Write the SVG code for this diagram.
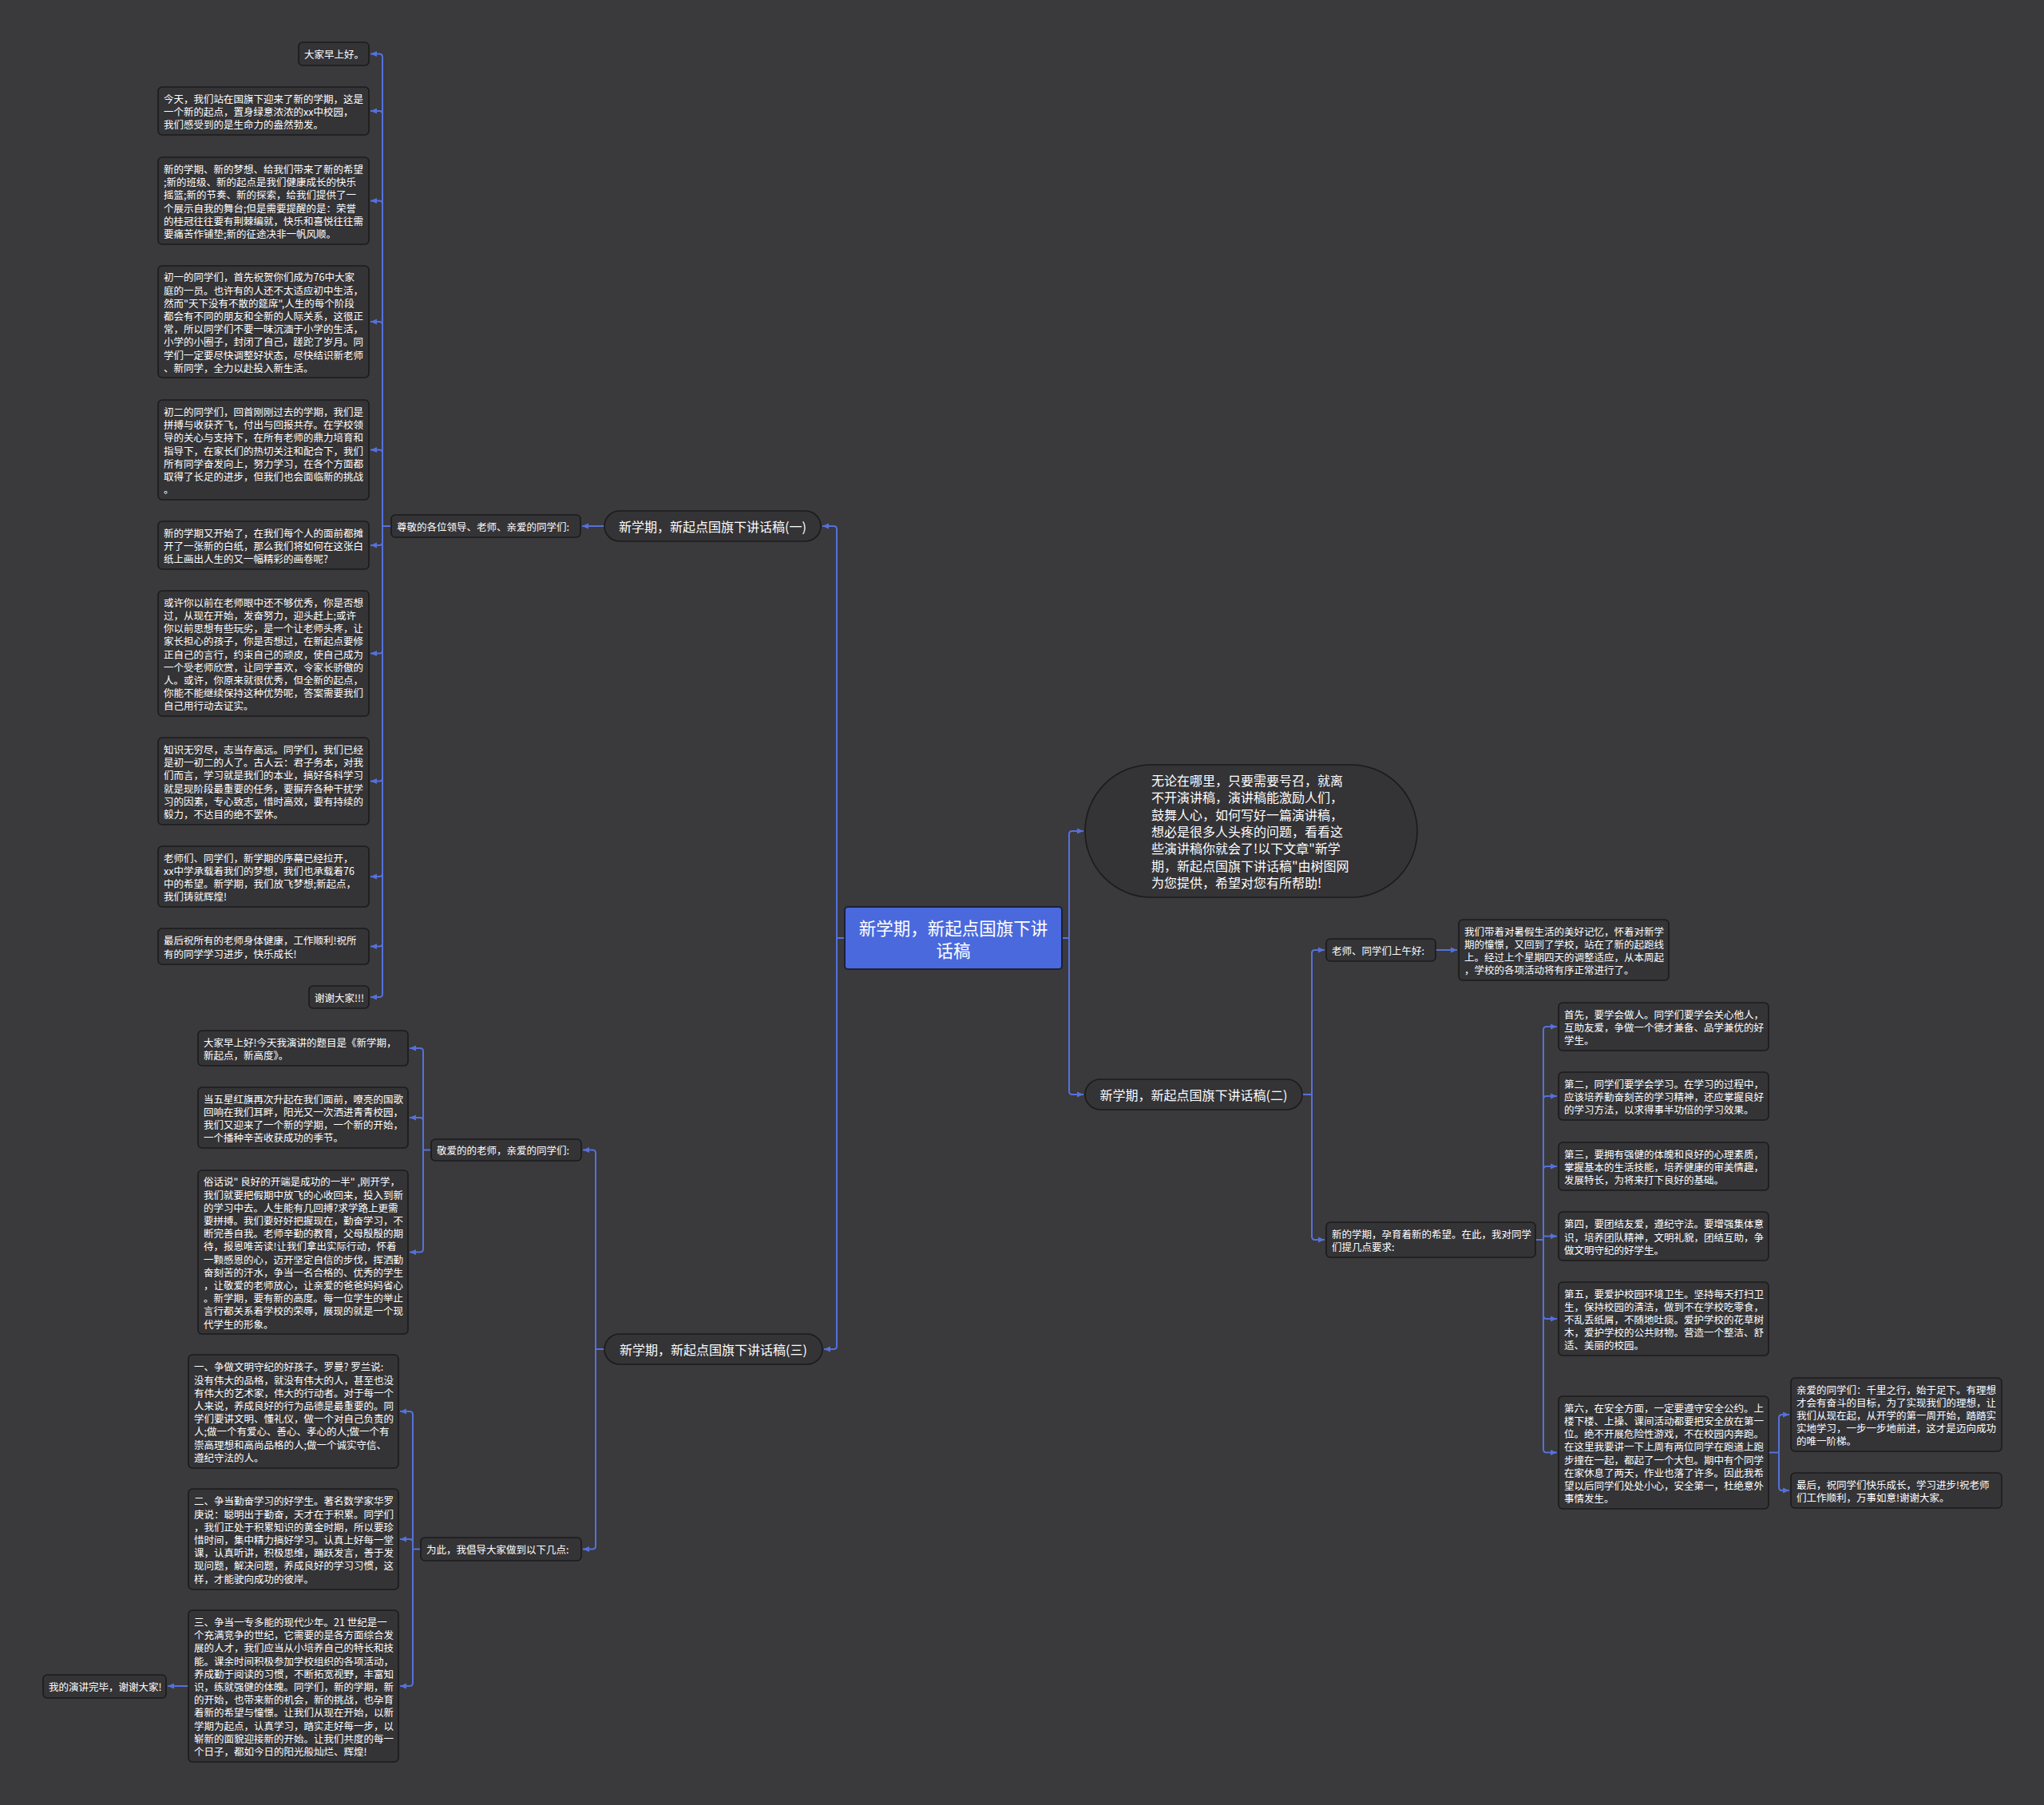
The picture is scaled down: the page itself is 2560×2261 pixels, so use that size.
<svg xmlns="http://www.w3.org/2000/svg" width="2560" height="2261" viewBox="0 0 2560 2261">
<defs>
<marker id="ah" markerUnits="userSpaceOnUse" markerWidth="10" markerHeight="9" refX="8" refY="4.5" orient="auto"><path d="M0,1 L8,4.5 L0,8 z" fill="#5571db"/></marker>
<style>
.bg{fill:#3a393c}
.n{fill:#343336;stroke:#1b1b1c;stroke-width:1.6}
.t{font-family:"Noto Sans CJK SC","Noto Sans",sans-serif;font-size:12.5px;fill:#ffffff;dominant-baseline:central}
.bt{font-family:"Noto Sans CJK SC","Noto Sans",sans-serif;font-size:16px;fill:#ffffff;dominant-baseline:central;text-anchor:middle}
.root{fill:#4a69dd;stroke:#1d2038;stroke-width:2}
.rt{font-family:"Noto Sans CJK SC","Noto Sans",sans-serif;font-size:21.5px;fill:#ffffff;dominant-baseline:central;text-anchor:middle}
.c path{fill:none;stroke:#5571db;stroke-width:2}
</style>
</defs>
<rect class="bg" x="0" y="0" width="2560" height="2261"/>

<g class="c" id="connectors">
<path d="M1058,1175 H1048"/>
<path d="M1048,1175 V663 Q1048,659 1044,659 H1030" marker-end="url(#ah)"/>
<path d="M1048,1175 V1686 Q1048,1690 1044,1690 H1032" marker-end="url(#ah)"/>
<path d="M1330,1175 H1339"/>
<path d="M1339,1175 V1045 Q1339,1041 1343,1041 H1357" marker-end="url(#ah)"/>
<path d="M1339,1175 V1367 Q1339,1371 1343,1371 H1357" marker-end="url(#ah)"/>
<path d="M757,659 H729" marker-end="url(#ah)"/>
<path d="M490,659 H479"/>
<path d="M479,659 V71.5 Q479,67.5 475,67.5 H464" marker-end="url(#ah)"/>
<path d="M479,659 V143 Q479,139 475,139 H464" marker-end="url(#ah)"/>
<path d="M479,659 V255.5 Q479,251.5 475,251.5 H464" marker-end="url(#ah)"/>
<path d="M479,659 V407 Q479,403 475,403 H464" marker-end="url(#ah)"/>
<path d="M479,659 V567.5 Q479,563.5 475,563.5 H464" marker-end="url(#ah)"/>
<path d="M479,659 V679 Q479,683 475,683 H464" marker-end="url(#ah)"/>
<path d="M479,659 V814.5 Q479,818.5 475,818.5 H464" marker-end="url(#ah)"/>
<path d="M479,659 V974.5 Q479,978.5 475,978.5 H464" marker-end="url(#ah)"/>
<path d="M479,659 V1094 Q479,1098 475,1098 H464" marker-end="url(#ah)"/>
<path d="M479,659 V1181.5 Q479,1185.5 475,1185.5 H464" marker-end="url(#ah)"/>
<path d="M479,659 V1245 Q479,1249 475,1249 H464" marker-end="url(#ah)"/>
<path d="M757,1690 H746"/>
<path d="M746,1690 V1444.5 Q746,1440.5 742,1440.5 H730" marker-end="url(#ah)"/>
<path d="M746,1690 V1936.5 Q746,1940.5 742,1940.5 H730" marker-end="url(#ah)"/>
<path d="M540,1440.5 H530"/>
<path d="M530,1440.5 V1317 Q530,1313 526,1313 H513" marker-end="url(#ah)"/>
<path d="M530,1440.5 V1404 Q530,1400 526,1400 H513" marker-end="url(#ah)"/>
<path d="M530,1440.5 V1564.5 Q530,1568.5 526,1568.5 H513" marker-end="url(#ah)"/>
<path d="M527,1940.5 H517"/>
<path d="M517,1940.5 V1772 Q517,1768 513,1768 H501" marker-end="url(#ah)"/>
<path d="M517,1940.5 V1932 Q517,1928 513,1928 H501" marker-end="url(#ah)"/>
<path d="M517,1940.5 V2108 Q517,2112 513,2112 H501" marker-end="url(#ah)"/>
<path d="M236,2112 H210" marker-end="url(#ah)"/>
<path d="M1631,1371 H1643"/>
<path d="M1643,1371 V1194 Q1643,1190 1647,1190 H1659" marker-end="url(#ah)"/>
<path d="M1643,1371 V1549 Q1643,1553 1647,1553 H1659" marker-end="url(#ah)"/>
<path d="M1798,1190 H1825" marker-end="url(#ah)"/>
<path d="M1923,1553 H1933"/>
<path d="M1933,1553 V1290 Q1933,1286 1937,1286 H1950" marker-end="url(#ah)"/>
<path d="M1933,1553 V1377 Q1933,1373 1937,1373 H1950" marker-end="url(#ah)"/>
<path d="M1933,1553 V1465 Q1933,1461 1937,1461 H1950" marker-end="url(#ah)"/>
<path d="M1933,1548.5 H1950" marker-end="url(#ah)"/>
<path d="M1933,1553 V1648 Q1933,1652 1937,1652 H1950" marker-end="url(#ah)"/>
<path d="M1933,1553 V1815.5 Q1933,1819.5 1937,1819.5 H1950" marker-end="url(#ah)"/>
<path d="M2215,1819.5 H2228"/>
<path d="M2228,1819.5 V1776 Q2228,1772 2232,1772 H2241" marker-end="url(#ah)"/>
<path d="M2228,1819.5 V1863 Q2228,1867 2232,1867 H2241" marker-end="url(#ah)"/>
</g>

<g id="root"><rect class="root" x="1058" y="1136" width="272" height="78" rx="4"/><text class="rt" x="1194" y="1161">新学期，新起点国旗下讲</text><text class="rt" x="1194" y="1189">话稿</text></g>

<g id="intro"><rect class="n" x="1359" y="958" width="416" height="166" rx="83"/>
<text class="t" style="font-size:16px" x="1442" y="976.8"><tspan x="1442">无论在哪里，只要需要号召，就离</tspan><tspan x="1442" dy="21.4">不开演讲稿，演讲稿能激励人们，</tspan><tspan x="1442" dy="21.4">鼓舞人心，如何写好一篇演讲稿，</tspan><tspan x="1442" dy="21.4">想必是很多人头疼的问题，看看这</tspan><tspan x="1442" dy="21.4">些演讲稿你就会了!以下文章"新学</tspan><tspan x="1442" dy="21.4">期，新起点国旗下讲话稿"由树图网</tspan><tspan x="1442" dy="21.4">为您提供，希望对您有所帮助!</tspan></text></g>

<g id="b1"><rect class="n" x="757" y="640" width="271" height="38" rx="19"/><text class="bt" x="892.5" y="659">新学期，新起点国旗下讲话稿(一)</text></g>
<g id="b2"><rect class="n" x="1359" y="1352" width="272" height="38" rx="19"/><text class="bt" x="1495" y="1371">新学期，新起点国旗下讲话稿(二)</text></g>
<g id="b3"><rect class="n" x="757" y="1671" width="273" height="38" rx="19"/><text class="bt" x="893.5" y="1690">新学期，新起点国旗下讲话稿(三)</text></g>

<g id="l1"><rect class="n" x="490" y="645" width="237" height="28" rx="5"/><text class="t" x="497" y="659">尊敬的各位领导、老师、亲爱的同学们:</text></g>

<g id="n1"><rect class="n" x="374" y="53" width="88" height="29" rx="5"/><text class="t" x="381" y="67.5">大家早上好。</text></g>
<g id="n2"><rect class="n" x="198" y="109" width="264" height="60" rx="5"/><text class="t" y="122.8"><tspan x="205">今天，我们站在国旗下迎来了新的学期，这是</tspan><tspan x="205" dy="16.2">一个新的起点，置身绿意浓浓的xx中校园，</tspan><tspan x="205" dy="16.2">我们感受到的是生命力的盎然勃发。</tspan></text></g>
<g id="n3"><rect class="n" x="198" y="197" width="264" height="109" rx="5"/><text class="t" y="211"><tspan x="205">新的学期、新的梦想、给我们带来了新的希望</tspan><tspan x="205" dy="16.2">;新的班级、新的起点是我们健康成长的快乐</tspan><tspan x="205" dy="16.2">摇篮;新的节奏、新的探索，给我们提供了一</tspan><tspan x="205" dy="16.2">个展示自我的舞台;但是需要提醒的是：荣誉</tspan><tspan x="205" dy="16.2">的桂冠往往要有荆棘编就，快乐和喜悦往往需</tspan><tspan x="205" dy="16.2">要痛苦作铺垫;新的征途决非一帆风顺。</tspan></text></g>
<g id="n4"><rect class="n" x="198" y="333" width="264" height="140" rx="5"/><text class="t" y="346.3"><tspan x="205">初一的同学们，首先祝贺你们成为76中大家</tspan><tspan x="205" dy="16.2">庭的一员。也许有的人还不太适应初中生活，</tspan><tspan x="205" dy="16.2">然而"天下没有不散的筵席",人生的每个阶段</tspan><tspan x="205" dy="16.2">都会有不同的朋友和全新的人际关系，这很正</tspan><tspan x="205" dy="16.2">常，所以同学们不要一味沉湎于小学的生活，</tspan><tspan x="205" dy="16.2">小学的小圈子，封闭了自己，蹉跎了岁月。同</tspan><tspan x="205" dy="16.2">学们一定要尽快调整好状态，尽快结识新老师</tspan><tspan x="205" dy="16.2">、新同学，全力以赴投入新生活。</tspan></text></g>
<g id="n5"><rect class="n" x="198" y="501" width="264" height="125" rx="5"/><text class="t" y="514.9"><tspan x="205">初二的同学们，回首刚刚过去的学期，我们是</tspan><tspan x="205" dy="16.2">拼搏与收获齐飞，付出与回报共存。在学校领</tspan><tspan x="205" dy="16.2">导的关心与支持下，在所有老师的鼎力培育和</tspan><tspan x="205" dy="16.2">指导下，在家长们的热切关注和配合下，我们</tspan><tspan x="205" dy="16.2">所有同学奋发向上，努力学习，在各个方面都</tspan><tspan x="205" dy="16.2">取得了长足的进步，但我们也会面临新的挑战</tspan><tspan x="205" dy="16.2">。</tspan></text></g>
<g id="n6"><rect class="n" x="198" y="653" width="264" height="60" rx="5"/><text class="t" y="666.8"><tspan x="205">新的学期又开始了，在我们每个人的面前都摊</tspan><tspan x="205" dy="16.2">开了一张新的白纸，那么我们将如何在这张白</tspan><tspan x="205" dy="16.2">纸上画出人生的又一幅精彩的画卷呢?</tspan></text></g>
<g id="n7"><rect class="n" x="198" y="740" width="264" height="157" rx="5"/><text class="t" y="753.7"><tspan x="205">或许你以前在老师眼中还不够优秀，你是否想</tspan><tspan x="205" dy="16.2">过，从现在开始，发奋努力，迎头赶上;或许</tspan><tspan x="205" dy="16.2">你以前思想有些玩劣，是一个让老师头疼，让</tspan><tspan x="205" dy="16.2">家长担心的孩子，你是否想过，在新起点要修</tspan><tspan x="205" dy="16.2">正自己的言行，约束自己的顽皮，使自己成为</tspan><tspan x="205" dy="16.2">一个受老师欣赏，让同学喜欢，令家长骄傲的</tspan><tspan x="205" dy="16.2">人。或许，你原来就很优秀，但全新的起点，</tspan><tspan x="205" dy="16.2">你能不能继续保持这种优势呢，答案需要我们</tspan><tspan x="205" dy="16.2">自己用行动去证实。</tspan></text></g>
<g id="n8"><rect class="n" x="198" y="924" width="264" height="109" rx="5"/><text class="t" y="938"><tspan x="205">知识无穷尽，志当存高远。同学们，我们已经</tspan><tspan x="205" dy="16.2">是初一初二的人了。古人云：君子务本，对我</tspan><tspan x="205" dy="16.2">们而言，学习就是我们的本业，搞好各科学习</tspan><tspan x="205" dy="16.2">就是现阶段最重要的任务，要摒弃各种干扰学</tspan><tspan x="205" dy="16.2">习的因素，专心致志，惜时高效，要有持续的</tspan><tspan x="205" dy="16.2">毅力，不达目的绝不罢休。</tspan></text></g>
<g id="n9"><rect class="n" x="198" y="1060" width="264" height="76" rx="5"/><text class="t" y="1073.7"><tspan x="205">老师们、同学们，新学期的序幕已经拉开，</tspan><tspan x="205" dy="16.2">xx中学承载着我们的梦想，我们也承载着76</tspan><tspan x="205" dy="16.2">中的希望。新学期，我们放飞梦想;新起点，</tspan><tspan x="205" dy="16.2">我们铸就辉煌!</tspan></text></g>
<g id="n10"><rect class="n" x="198" y="1163" width="264" height="45" rx="5"/><text class="t" y="1177.4"><tspan x="205">最后祝所有的老师身体健康，工作顺利!祝所</tspan><tspan x="205" dy="16.2">有的同学学习进步，快乐成长!</tspan></text></g>
<g id="n11"><rect class="n" x="387" y="1235" width="75" height="28" rx="5"/><text class="t" x="394" y="1249">谢谢大家!!!</text></g>

<g id="l3a"><rect class="n" x="540" y="1427" width="188" height="27" rx="5"/><text class="t" x="547" y="1440.5">敬爱的的老师，亲爱的同学们:</text></g>
<g id="c1"><rect class="n" x="248" y="1291" width="263" height="44" rx="5"/><text class="t" y="1304.9"><tspan x="255">大家早上好!今天我演讲的题目是《新学期，</tspan><tspan x="255" dy="16.2">新起点，新高度》。</tspan></text></g>
<g id="c2"><rect class="n" x="248" y="1362" width="263" height="76" rx="5"/><text class="t" y="1375.7"><tspan x="255">当五星红旗再次升起在我们面前，嘹亮的国歌</tspan><tspan x="255" dy="16.2">回响在我们耳畔，阳光又一次洒进青青校园，</tspan><tspan x="255" dy="16.2">我们又迎来了一个新的学期，一个新的开始，</tspan><tspan x="255" dy="16.2">一个播种辛苦收获成功的季节。</tspan></text></g>
<g id="c3"><rect class="n" x="248" y="1466" width="263" height="205" rx="5"/><text class="t" y="1479.4"><tspan x="255">俗话说" 良好的开端是成功的一半" ,刚开学，</tspan><tspan x="255" dy="16.2">我们就要把假期中放飞的心收回来，投入到新</tspan><tspan x="255" dy="16.2">的学习中去。人生能有几回搏?求学路上更需</tspan><tspan x="255" dy="16.2">要拼搏。我们要好好把握现在，勤奋学习，不</tspan><tspan x="255" dy="16.2">断完善自我。老师辛勤的教育，父母殷殷的期</tspan><tspan x="255" dy="16.2">待，报恩唯苦读!让我们拿出实际行动，怀着</tspan><tspan x="255" dy="16.2">一颗感恩的心，迈开坚定自信的步伐，挥洒勤</tspan><tspan x="255" dy="16.2">奋刻苦的汗水，争当一名合格的、优秀的学生</tspan><tspan x="255" dy="16.2">，让敬爱的老师放心，让亲爱的爸爸妈妈省心</tspan><tspan x="255" dy="16.2">。新学期，要有新的高度。每一位学生的举止</tspan><tspan x="255" dy="16.2">言行都关系着学校的荣辱，展现的就是一个现</tspan><tspan x="255" dy="16.2">代学生的形象。</tspan></text></g>

<g id="l3b"><rect class="n" x="527" y="1926" width="201" height="29" rx="5"/><text class="t" x="534" y="1940.5">为此，我倡导大家做到以下几点:</text></g>
<g id="d1"><rect class="n" x="236" y="1697" width="263" height="142" rx="5"/><text class="t" y="1711.3"><tspan x="243">一、争做文明守纪的好孩子。罗曼? 罗兰说:</tspan><tspan x="243" dy="16.2">没有伟大的品格，就没有伟大的人，甚至也没</tspan><tspan x="243" dy="16.2">有伟大的艺术家，伟大的行动者。对于每一个</tspan><tspan x="243" dy="16.2">人来说，养成良好的行为品德是最重要的。同</tspan><tspan x="243" dy="16.2">学们要讲文明、懂礼仪，做一个对自己负责的</tspan><tspan x="243" dy="16.2">人;做一个有爱心、善心、孝心的人;做一个有</tspan><tspan x="243" dy="16.2">崇高理想和高尚品格的人;做一个诚实守信、</tspan><tspan x="243" dy="16.2">遵纪守法的人。</tspan></text></g>
<g id="d2"><rect class="n" x="236" y="1865" width="263" height="126" rx="5"/><text class="t" y="1879.4"><tspan x="243">二、争当勤奋学习的好学生。著名数学家华罗</tspan><tspan x="243" dy="16.2">庚说：聪明出于勤奋，天才在于积累。同学们</tspan><tspan x="243" dy="16.2">，我们正处于积累知识的黄金时期，所以要珍</tspan><tspan x="243" dy="16.2">惜时间，集中精力搞好学习。认真上好每一堂</tspan><tspan x="243" dy="16.2">课，认真听讲，积极思维，踊跃发言，善于发</tspan><tspan x="243" dy="16.2">现问题，解决问题，养成良好的学习习惯，这</tspan><tspan x="243" dy="16.2">样，才能驶向成功的彼岸。</tspan></text></g>
<g id="d3"><rect class="n" x="236" y="2017" width="263" height="190" rx="5"/><text class="t" y="2031"><tspan x="243">三、争当一专多能的现代少年。21 世纪是一</tspan><tspan x="243" dy="16.2">个充满竞争的世纪，它需要的是各方面综合发</tspan><tspan x="243" dy="16.2">展的人才，我们应当从小培养自己的特长和技</tspan><tspan x="243" dy="16.2">能。课余时间积极参加学校组织的各项活动，</tspan><tspan x="243" dy="16.2">养成勤于阅读的习惯，不断拓宽视野，丰富知</tspan><tspan x="243" dy="16.2">识，练就强健的体魄。同学们，新的学期，新</tspan><tspan x="243" dy="16.2">的开始，也带来新的机会，新的挑战，也孕育</tspan><tspan x="243" dy="16.2">着新的希望与憧憬。让我们从现在开始，以新</tspan><tspan x="243" dy="16.2">学期为起点，认真学习，踏实走好每一步，以</tspan><tspan x="243" dy="16.2">崭新的面貌迎接新的开始。让我们共度的每一</tspan><tspan x="243" dy="16.2">个日子，都如今日的阳光般灿烂、辉煌!</tspan></text></g>
<g id="e1"><rect class="n" x="54" y="2098" width="154" height="29" rx="5"/><text class="t" x="61" y="2112.5">我的演讲完毕，谢谢大家!</text></g>

<g id="r1"><rect class="n" x="1661" y="1176" width="137" height="28" rx="5"/><text class="t" x="1668" y="1190">老师、同学们上午好:</text></g>
<g id="r1a"><rect class="n" x="1827" y="1152" width="263" height="76" rx="5"/><text class="t" y="1165.7"><tspan x="1834">我们带着对暑假生活的美好记忆，怀着对新学</tspan><tspan x="1834" dy="16.2">期的憧憬，又回到了学校，站在了新的起跑线</tspan><tspan x="1834" dy="16.2">上。经过上个星期四天的调整适应，从本周起</tspan><tspan x="1834" dy="16.2">，学校的各项活动将有序正常进行了。</tspan></text></g>
<g id="r2"><rect class="n" x="1661" y="1531" width="262" height="44" rx="5"/><text class="t" y="1544.9"><tspan x="1668">新的学期，孕育着新的希望。在此，我对同学</tspan><tspan x="1668" dy="16.2">们提几点要求:</tspan></text></g>
<g id="s1"><rect class="n" x="1952" y="1256" width="263" height="60" rx="5"/><text class="t" y="1269.8"><tspan x="1959">首先，要学会做人。同学们要学会关心他人，</tspan><tspan x="1959" dy="16.2">互助友爱，争做一个德才兼备、品学兼优的好</tspan><tspan x="1959" dy="16.2">学生。</tspan></text></g>
<g id="s2"><rect class="n" x="1952" y="1343" width="263" height="60" rx="5"/><text class="t" y="1356.8"><tspan x="1959">第二，同学们要学会学习。在学习的过程中，</tspan><tspan x="1959" dy="16.2">应该培养勤奋刻苦的学习精神，还应掌握良好</tspan><tspan x="1959" dy="16.2">的学习方法，以求得事半功倍的学习效果。</tspan></text></g>
<g id="s3"><rect class="n" x="1952" y="1431" width="263" height="60" rx="5"/><text class="t" y="1444.8"><tspan x="1959">第三，要拥有强健的体魄和良好的心理素质，</tspan><tspan x="1959" dy="16.2">掌握基本的生活技能，培养健康的审美情趣，</tspan><tspan x="1959" dy="16.2">发展特长，为将来打下良好的基础。</tspan></text></g>
<g id="s4"><rect class="n" x="1952" y="1518" width="263" height="61" rx="5"/><text class="t" y="1532.3"><tspan x="1959">第四，要团结友爱，遵纪守法。要增强集体意</tspan><tspan x="1959" dy="16.2">识，培养团队精神，文明礼貌，团结互助，争</tspan><tspan x="1959" dy="16.2">做文明守纪的好学生。</tspan></text></g>
<g id="s5"><rect class="n" x="1952" y="1606" width="263" height="92" rx="5"/><text class="t" y="1619.6"><tspan x="1959">第五，要爱护校园环境卫生。坚持每天打扫卫</tspan><tspan x="1959" dy="16.2">生，保持校园的清洁，做到不在学校吃零食，</tspan><tspan x="1959" dy="16.2">不乱丢纸屑，不随地吐痰。爱护学校的花草树</tspan><tspan x="1959" dy="16.2">木，爱护学校的公共财物。营造一个整洁、舒</tspan><tspan x="1959" dy="16.2">适、美丽的校园。</tspan></text></g>
<g id="s6"><rect class="n" x="1952" y="1749" width="263" height="141" rx="5"/><text class="t" y="1762.8"><tspan x="1959">第六，在安全方面，一定要遵守安全公约。上</tspan><tspan x="1959" dy="16.2">楼下楼、上操、课间活动都要把安全放在第一</tspan><tspan x="1959" dy="16.2">位。绝不开展危险性游戏，不在校园内奔跑。</tspan><tspan x="1959" dy="16.2">在这里我要讲一下上周有两位同学在跑道上跑</tspan><tspan x="1959" dy="16.2">步撞在一起，都起了一个大包。期中有个同学</tspan><tspan x="1959" dy="16.2">在家休息了两天，作业也落了许多。因此我希</tspan><tspan x="1959" dy="16.2">望以后同学们处处小心，安全第一，杜绝意外</tspan><tspan x="1959" dy="16.2">事情发生。</tspan></text></g>
<g id="t1"><rect class="n" x="2243" y="1726" width="264" height="92" rx="5"/><text class="t" y="1739.6"><tspan x="2250">亲爱的同学们：千里之行，始于足下。有理想</tspan><tspan x="2250" dy="16.2">才会有奋斗的目标，为了实现我们的理想，让</tspan><tspan x="2250" dy="16.2">我们从现在起，从开学的第一周开始，踏踏实</tspan><tspan x="2250" dy="16.2">实地学习，一步一步地前进，这才是迈向成功</tspan><tspan x="2250" dy="16.2">的唯一阶梯。</tspan></text></g>
<g id="t2"><rect class="n" x="2243" y="1845" width="264" height="44" rx="5"/><text class="t" y="1858.9"><tspan x="2250">最后，祝同学们快乐成长，学习进步!祝老师</tspan><tspan x="2250" dy="16.2">们工作顺利，万事如意!谢谢大家。</tspan></text></g>
</svg>
